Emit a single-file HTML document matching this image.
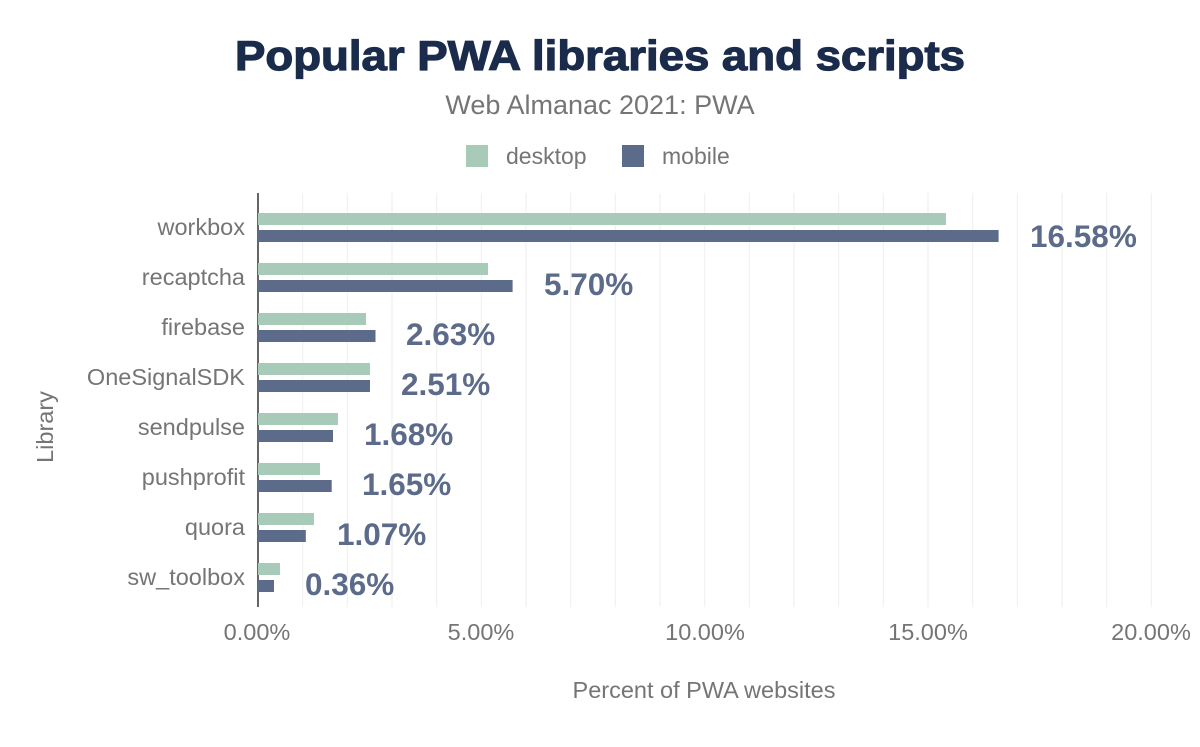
<!DOCTYPE html>
<html><head><meta charset="utf-8"><style>
body{margin:0;background:#fff;width:1200px;height:742px;overflow:hidden;font-family:"Liberation Sans",sans-serif}
</style></head><body>
<svg width="1200" height="742" xmlns="http://www.w3.org/2000/svg" font-family="Liberation Sans, sans-serif">
<text x="235" y="70" textLength="730" lengthAdjust="spacingAndGlyphs" font-size="42" font-weight="bold" fill="#1a2b4b" stroke="#1a2b4b" stroke-width="1.2">Popular PWA libraries and scripts</text>
<text x="600" y="114" text-anchor="middle" font-size="27" fill="#757575">Web Almanac 2021: PWA</text>
<rect x="466" y="145" width="22" height="22" fill="#a8cbb9"/>
<text x="506" y="164" font-size="23" fill="#757575">desktop</text>
<rect x="622" y="145" width="22" height="22" fill="#5c6b8a"/>
<text x="662" y="164" font-size="23" fill="#757575">mobile</text>
<g stroke="#eeeeee" stroke-width="1">
<line x1="302.7" y1="193" x2="302.7" y2="607"/><line x1="347.3" y1="193" x2="347.3" y2="607"/><line x1="392" y1="193" x2="392" y2="607"/><line x1="436.7" y1="193" x2="436.7" y2="607"/><line x1="481.3" y1="193" x2="481.3" y2="607"/><line x1="526" y1="193" x2="526" y2="607"/><line x1="570.7" y1="193" x2="570.7" y2="607"/><line x1="615.3" y1="193" x2="615.3" y2="607"/><line x1="660" y1="193" x2="660" y2="607"/><line x1="704.7" y1="193" x2="704.7" y2="607"/><line x1="749.3" y1="193" x2="749.3" y2="607"/><line x1="794" y1="193" x2="794" y2="607"/><line x1="838.7" y1="193" x2="838.7" y2="607"/><line x1="883.3" y1="193" x2="883.3" y2="607"/><line x1="928" y1="193" x2="928" y2="607"/><line x1="972.7" y1="193" x2="972.7" y2="607"/><line x1="1017.3" y1="193" x2="1017.3" y2="607"/><line x1="1062" y1="193" x2="1062" y2="607"/><line x1="1106.7" y1="193" x2="1106.7" y2="607"/><line x1="1151.3" y1="193" x2="1151.3" y2="607"/>
</g>
<line x1="258" y1="193" x2="258" y2="607" stroke="#333" stroke-width="1.5"/>
<g fill="#a8cbb9">
<rect x="258" y="213" width="688" height="12"/>
<rect x="258" y="263" width="230" height="12"/>
<rect x="258" y="313" width="108" height="12"/>
<rect x="258" y="363" width="112" height="12"/>
<rect x="258" y="413" width="80" height="12"/>
<rect x="258" y="463" width="62" height="12"/>
<rect x="258" y="513" width="56" height="12"/>
<rect x="258" y="563" width="22" height="12"/>
</g>
<g fill="#5c6b8a">
<rect x="258" y="230" width="740.6" height="12"/>
<rect x="258" y="280" width="254.6" height="12"/>
<rect x="258" y="330" width="117.5" height="12"/>
<rect x="258" y="380" width="112" height="12"/>
<rect x="258" y="430" width="75" height="12"/>
<rect x="258" y="480" width="73.7" height="12"/>
<rect x="258" y="530" width="47.8" height="12"/>
<rect x="258" y="580" width="16" height="12"/>
</g>
<g font-size="31.5" font-weight="bold" fill="#5c6b8a">
<text x="1030" y="247">16.58%</text>
<text x="544" y="295">5.70%</text>
<text x="406" y="345">2.63%</text>
<text x="401" y="395">2.51%</text>
<text x="364" y="445">1.68%</text>
<text x="362" y="495">1.65%</text>
<text x="337" y="545">1.07%</text>
<text x="305" y="595">0.36%</text>
</g>
<g font-size="23.5" fill="#757575" text-anchor="end">
<text x="245" y="235">workbox</text>
<text x="245" y="285">recaptcha</text>
<text x="245" y="335">firebase</text>
<text x="245" y="385">OneSignalSDK</text>
<text x="245" y="435">sendpulse</text>
<text x="245" y="485">pushprofit</text>
<text x="245" y="535">quora</text>
<text x="245" y="585">sw_toolbox</text>
</g>
<g font-size="23.5" fill="#757575" text-anchor="middle">
<text x="257" y="640">0.00%</text>
<text x="481" y="640">5.00%</text>
<text x="705" y="640">10.00%</text>
<text x="928" y="640">15.00%</text>
<text x="1151" y="640">20.00%</text>
<text x="704" y="698">Percent of PWA websites</text>
<text transform="translate(53,427) rotate(-90)">Library</text>
</g>
</svg>
</body></html>
